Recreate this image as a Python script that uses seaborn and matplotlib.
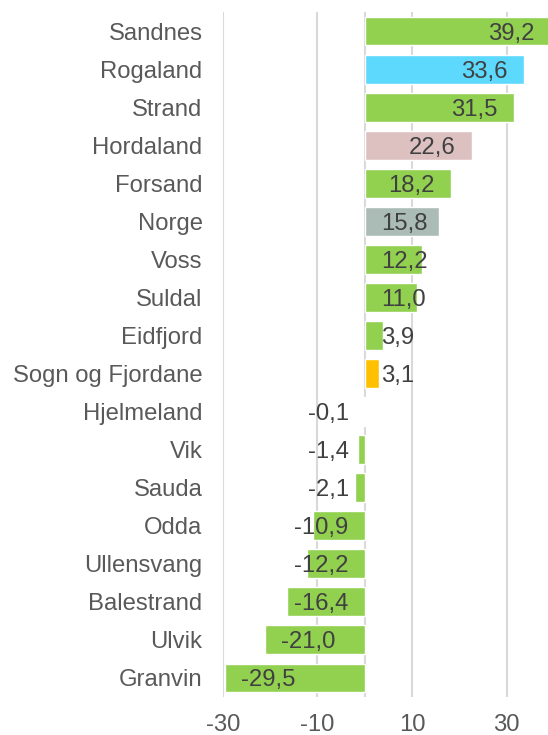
import matplotlib
matplotlib.use("Agg")
import matplotlib.pyplot as plt
import seaborn as sns

# Endring i prosent, sortert synkende
regions = ["Sandnes", "Rogaland", "Strand", "Hordaland", "Forsand", "Norge",
           "Voss", "Suldal", "Eidfjord", "Sogn og Fjordane", "Hjelmeland",
           "Vik", "Sauda", "Odda", "Ullensvang", "Balestrand", "Ulvik", "Granvin"]
values = [39.2, 33.6, 31.5, 22.6, 18.2, 15.8, 12.2, 11.0, 3.9, 3.1, -0.1,
          -1.4, -2.1, -10.9, -12.2, -16.4, -21.0, -29.5]
x_ticks = [-30, -10, 10, 30]

green = "#92D050"
special = {"Rogaland": "#5DD9FD", "Hordaland": "#DDC1C1",
           "Norge": "#ABBBB5", "Sogn og Fjordane": "#FFC000"}
palette = {r: special.get(r, green) for r in regions}

sns.set_style("white")
plt.rcParams["font.family"] = ["Liberation Sans", "DejaVu Sans"]
plt.rcParams["axes.unicode_minus"] = False
fs = 17.2

fig = plt.figure(figsize=(5.48, 7.35), dpi=100)
ax = fig.add_axes([222.7 / 548, 1 - 697 / 735, 1 - 222.7 / 548, (697 - 12) / 735])

sns.barplot(x=values, y=regions, hue=regions, palette=palette, legend=False,
            orient="h", width=0.76, saturation=1, ax=ax, zorder=2)

ax.set_xlim(-30, 38.75)
ax.set_ylim(len(regions) - 0.5, -0.5)
ax.set_xticks(x_ticks)
ax.set_xticklabels([str(t) for t in x_ticks])
ax.grid(axis="x", color="#D9D9D9", linewidth=1.5, zorder=0)
ax.grid(axis="y", visible=False)
ax.axvline(0, color="#D9D9D9", linewidth=1.5, zorder=1)
for s in ax.spines.values():
    s.set_visible(False)
ax.tick_params(axis="both", length=0, labelsize=fs, labelcolor="#595959")
ax.tick_params(axis="y", pad=14.5)
ax.tick_params(axis="x", pad=12)
ax.set_xlabel("")
ax.set_ylabel("")

# Dataetiketter: innerst ved enden av stolpen, men aldri over nullinjen
fig.canvas.draw()
renderer = fig.canvas.get_renderer()
pad = 16
zero_px = ax.transData.transform((0, 0))[0]
for i, v in enumerate(values):
    label = f"{v:.1f}".replace(".", ",")
    t = ax.annotate(label, xy=(0, i), xycoords="data", xytext=(0, 0),
                    textcoords="offset pixels", ha="left", va="center_baseline",
                    fontsize=fs, color="#404040", zorder=3)
    w = t.get_window_extent(renderer).width
    end_px = ax.transData.transform((v, i))[0]
    if v >= 0:
        left = end_px - pad - w
        left = max(left, zero_px + pad)
    else:
        left = end_px + pad
        if left + w > zero_px - pad:
            left = zero_px - pad - w
    t.set_position((left - zero_px, 0))

fig.savefig("out.png", dpi=100)
